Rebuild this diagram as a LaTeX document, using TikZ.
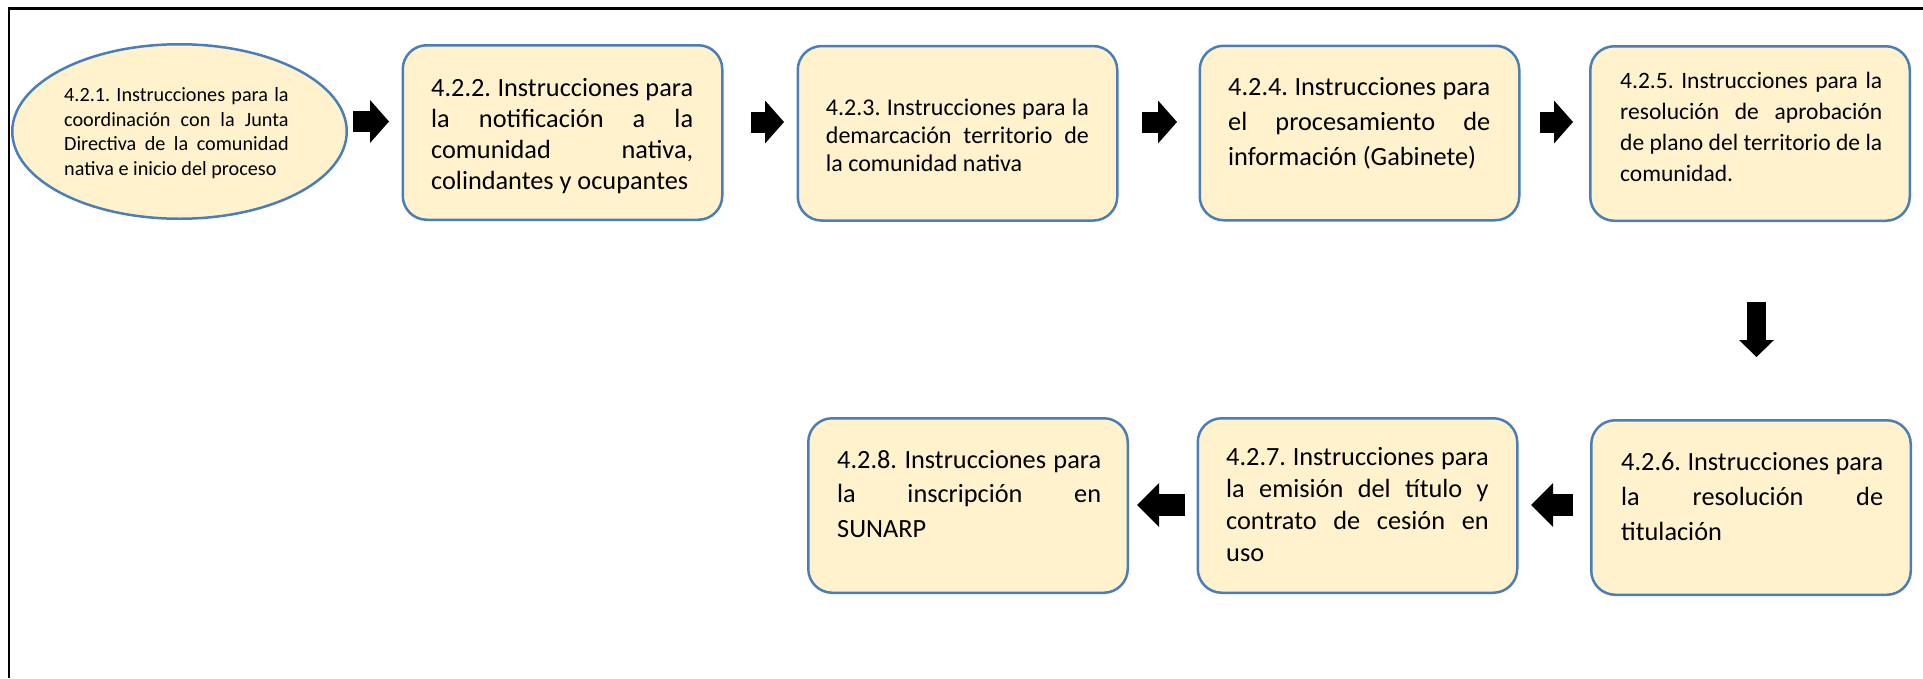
\documentclass[tikz,border=0pt]{standalone}
\usepackage{fontspec}
\setmainfont{Carlito}
\usetikzlibrary{positioning,calc,shapes.geometric,arrows.meta}
\definecolor{boxline}{RGB}{74,126,187}
\definecolor{boxfill}{RGB}{255,242,204}
\tolerance=10000
\hyphenpenalty=10000
\hbadness=10000
\frenchspacing

\tikzset{
  stepbox/.style={rectangle, rounded corners=24pt, draw=boxline, fill=boxfill,
    line width=2.5pt, minimum width=319.5pt, minimum height=174.5pt},
  startbox/.style={ellipse, draw=boxline, fill=boxfill,
    line width=2.5pt, minimum width=334.5pt, minimum height=174.5pt},
  steptext/.style={inner sep=0pt, anchor=base west, align=justify,
    text width=262pt, font=\fontsize{26.3}{31}\selectfont},
  flowarrow/.style n args={3}{line width=#1,
    -{Triangle[length=#2 0, width=#3 0, line width=0pt 0]}},
}

\begin{document}
\begin{tikzpicture}[x=1pt, y=-1pt]
\useasboundingbox (0,0) rectangle (1923,678);

% Frame
\draw[line width=2.5pt] (1923,8.5) -- (9,8.5) -- (9,678);

% Top row
\node[startbox] (s1) at (179.5,131.5) {};
\node[stepbox] (s2) at (562.5,132.5) {};
\node[stepbox] (s3) at (957.5,133.3) {};
\node[stepbox] (s4) at (1359.5,133) {};
\node[stepbox] (s5) at (1750,133.5) {};

% Bottom row
\node[stepbox] (s6) at (1751,507.5) {};
\node[stepbox] (s7) at (1357.5,505.5) {};
\node[stepbox] (s8) at (968,505.5) {};

% Texts
\node[steptext, text width=224.5pt, font=\fontsize{20.2}{24.5}\selectfont] (t1)
  at ($(s1.west)+(53,-29.8)$)
  {4.2.1. Instrucciones para la\linebreak coordinación con la Junta\linebreak
   Directiva de la comunidad\linebreak nativa e inicio del proceso};
\node[steptext] (t2) at ($(s2.north west)+(29.5,52.7)$)
  {4.2.2. Instrucciones para\linebreak la notificación a la\linebreak
   comunidad nativa,\linebreak colindantes y ocupantes};
\node[steptext, text width=263pt, font=\fontsize{24}{28.3}\selectfont] (t3)
  at ($(s3.north west)+(29.2,70.2)$)
  {4.2.3. Instrucciones para la\linebreak demarcación territorio de\linebreak
   la comunidad nativa};
\node[steptext, font=\fontsize{26.3}{35}\selectfont] (t4)
  at ($(s4.north west)+(29.5,50.5)$)
  {4.2.4. Instrucciones para\linebreak el procesamiento de\linebreak
   información (Gabinete)};
\node[steptext, font=\fontsize{23.5}{31}\selectfont] (t5)
  at ($(s5.north west)+(31,43.3)$)
  {4.2.5. Instrucciones para la\linebreak resolución de aprobación\linebreak
   de plano del territorio de la\linebreak comunidad.};
\node[steptext, font=\fontsize{26.3}{35}\selectfont] (t6)
  at ($(s6.north west)+(31,51)$)
  {4.2.6. Instrucciones para\linebreak la resolución de\linebreak titulación};
\node[steptext, text width=262.5pt, font=\fontsize{26.3}{32.3}\selectfont] (t7)
  at ($(s7.north west)+(29.5,48)$)
  {4.2.7. Instrucciones para\linebreak la emisión del título y\linebreak
   contrato de cesión en\linebreak uso};
\node[steptext, text width=264pt, font=\fontsize{26.3}{34.5}\selectfont] (t8)
  at ($(s8.north west)+(30,51)$)
  {4.2.8. Instrucciones para\linebreak la inscripción en\linebreak SUNARP};

% Connections
\draw[flowarrow={21pt}{19pt}{43pt}] ($(s1.east)+(5,-10)$) -- ($(s2.west)+(-12.5,-11)$);
\draw[flowarrow={21pt}{19pt}{43pt}] ($(s2.east)+(27.5,-10.5)$) -- ($(s3.west)+(-12.5,-11.3)$);
\draw[flowarrow={21pt}{19pt}{43pt}] ($(s3.east)+(23.5,-11.3)$) -- ($(s4.west)+(-21.5,-11)$);
\draw[flowarrow={21pt}{19pt}{43pt}] ($(s4.east)+(19,-11)$) -- ($(s5.west)+(-16,-11.5)$);
\draw[flowarrow={19pt}{17pt}{35pt}] ($(s5.south)+(6.5,80)$) -- ($(s6.north)+(5.5,-62)$);
\draw[flowarrow={22pt}{22pt}{44pt}] ($(s6.west)+(-17,-2.5)$) -- ($(s7.east)+(12.5,-0.5)$);
\draw[flowarrow={22pt}{22pt}{44pt}] ($(s7.west)+(-11.5,-0.5)$) -- ($(s8.east)+(8,-0.5)$);
\end{tikzpicture}
\end{document}
